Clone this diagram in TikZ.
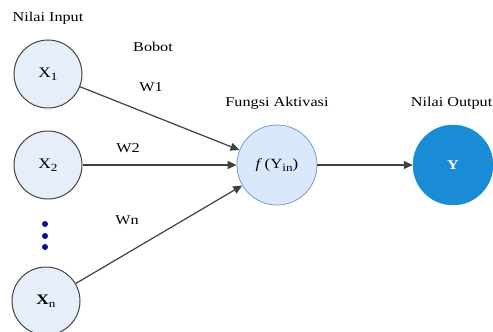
\documentclass[tikz,border=0pt]{standalone}
\usepackage{fontspec}
\setmainfont[FakeStretch=1.2]{Liberation Serif}
\usetikzlibrary{arrows.meta}
\definecolor{inFill}{HTML}{E6EEF9}
\definecolor{inDraw}{HTML}{444444}
\definecolor{fFill}{HTML}{DAE8FC}
\definecolor{fDraw}{HTML}{7A9CC8}
\definecolor{outFill}{HTML}{1B8BD6}
\definecolor{dotBlue}{HTML}{0A0A9A}
\newcommand{\mysub}[1]{\raisebox{-0.4ex}{\fontsize{11}{12}\selectfont #1}}
\begin{document}
\begin{tikzpicture}[x=1pt,y=-1pt,
  every node/.style={font=\fontsize{13.5}{16}\selectfont},
  innode/.style={circle,draw=inDraw,line width=1pt,fill=inFill,minimum size=68pt,inner sep=0pt,font=\fontsize{14.5}{16}\selectfont},
  fnode/.style={circle,draw=fDraw,line width=0.8pt,fill=fFill,minimum size=80pt,inner sep=0pt,font=\fontsize{14}{16}\selectfont},
  outnode/.style={circle,draw=outFill,fill=outFill,minimum size=80pt,inner sep=0pt,text=white,font=\fontsize{13.5}{16}\selectfont\bfseries},
  lbl/.style={inner sep=0pt},
  conn/.style={draw=black!75,line width=1.2pt,-{Triangle[length=9pt,width=8pt]}},
  dotmark/.style={circle,fill=dotBlue,minimum size=6pt,inner sep=0pt}]
\useasboundingbox (0,0) rectangle (493,332);
\node[innode] (x1) at (48,74) {X\mysub{1}};
\node[innode] (x2) at (48,165) {X\mysub{2}};
\node[innode] (xn) at (46,301) {\textbf{X}\mysub{n}};
\node[dotmark] (d1) at (45,224) {};
\node[dotmark] (d2) at (45,236) {};
\node[dotmark] (d3) at (45,247) {};
\node[fnode] (f) at (277,165) {\textit{f}\,(Y\mysub{in})};
\node[outnode] (y) at (453,165) {Y};
\node[lbl] (t1) at (48,18) {Nilai Input};
\node[lbl] (t2) at (153,47) {Bobot};
\node[lbl] (w1) at (151,87) {W1};
\node[lbl] (w2) at (128,148) {W2};
\node[lbl] (wn) at (127,220) {Wn};
\node[lbl] (t3) at (277,103) {Fungsi Aktivasi};
\node[lbl,anchor=east] (t4) at (492.5,103) {Nilai Output};
\draw[conn] (x1) -- (f);
\draw[conn] (x2) -- (f);
\draw[conn] (xn) -- (f);
\draw[conn] (f) -- (y);
\end{tikzpicture}
\end{document}
